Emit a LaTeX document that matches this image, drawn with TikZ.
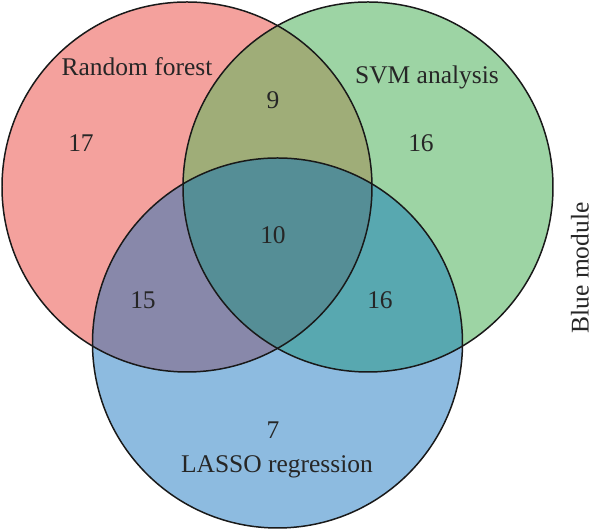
\documentclass[tikz,border=0pt]{standalone}
\usepackage{fontspec}
\setmainfont{Liberation Serif}
\usepackage{xcolor}
\usetikzlibrary{positioning}

\definecolor{rfred}{HTML}{F4A19D}
\definecolor{svmgreen}{HTML}{9DD4A4}
\definecolor{lassoblue}{HTML}{8DBBE0}
\definecolor{rgmix}{HTML}{9FAD78}
\definecolor{rbmix}{HTML}{8888AA}
\definecolor{gbmix}{HTML}{58A8B0}
\definecolor{allmix}{HTML}{558E96}

\tikzset{
  setlabel/.style={font=\fontsize{14.5}{17}\selectfont, text=black!85, inner sep=0pt},
  outline/.style={draw=black!90, line width=0.85pt}
}

\begin{document}
\begin{tikzpicture}[x=0.02cm, y=0.02cm]
\useasboundingbox (0,0) rectangle (600,530);
\coordinate (rf) at (187,343);
\coordinate (svm) at (368,343);
\coordinate (lasso) at (277.5,187);

% single sets
\fill[rfred] (rf) circle (185);
\fill[svmgreen] (svm) circle (185);
\fill[lassoblue] (lasso) circle (185);

% overlaps
\begin{scope}
  \clip (rf) circle (185);
  \fill[rgmix] (svm) circle (185);
  \fill[rbmix] (lasso) circle (185);
\end{scope}
\begin{scope}
  \clip (svm) circle (185);
  \fill[gbmix] (lasso) circle (185);
  \clip (rf) circle (185);
  \fill[allmix] (lasso) circle (185);
\end{scope}

% outlines
\draw[outline] (rf) circle (185);
\draw[outline] (svm) circle (185);
\draw[outline] (lasso) circle (185);

% labels
\node[setlabel] (rfname) at (137,463) {Random forest};
\node[setlabel] (svmname) at (427,453) {SVM analysis};
\node[setlabel] (lassoname) at (277,63) {LASSO regression};
\node[setlabel, rotate=90] (module) at (580,262) {Blue module};

\node[setlabel] (rfonly) at (81,387) {17};
\node[setlabel] (svmonly) at (421,387) {16};
\node[setlabel] (lassoonly) at (273,100) {7};
\node[setlabel] (rfsvm) at (273,430) {9};
\node[setlabel] (rflasso) at (143,230) {15};
\node[setlabel] (svmlasso) at (380,230) {16};
\node[setlabel] (core) at (273,295) {10};
\end{tikzpicture}
\end{document}
